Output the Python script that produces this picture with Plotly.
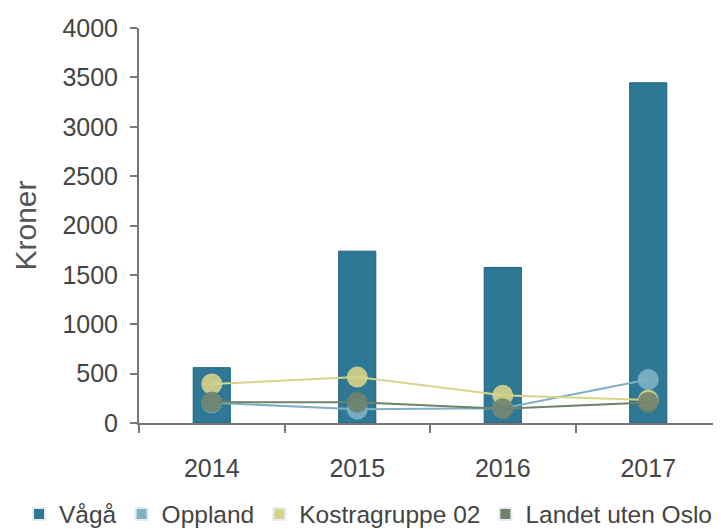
import plotly.graph_objects as go

years = ["2014", "2015", "2016", "2017"]
vaga = [560, 1740, 1575, 3445]
oppland = [205, 140, 150, 440]
kostra = [395, 465, 280, 232]
landet = [212, 210, 145, 208]

series_names = ["Vågå", "Oppland", "Kostragruppe 02", "Landet uten Oslo"]
colors = ["#2E7896", "#7FB0C4", "#D6D38A", "#6F826C"]

FONT = "Liberation Sans, Arial, sans-serif"

# page body has an 8px margin, so the figure is 713x521 placed at (8, 8)
W, H = 713, 521
L, T, B = 131, 20, 106
PW = W - L
PH = H - T - B

fig = go.Figure()

fig.add_trace(go.Bar(
    x=years, y=vaga, name=series_names[0], showlegend=False,
    marker=dict(color=colors[0], line=dict(color="#1F5F7A", width=1)),
    width=0.255,
))

for name, vals, col in [(series_names[1], oppland, colors[1]),
                        (series_names[2], kostra, colors[2]),
                        (series_names[3], landet, colors[3])]:
    fig.add_trace(go.Scatter(
        x=years, y=vals, name=name, mode="lines+markers", showlegend=False,
        line=dict(color=col, width=2),
        marker=dict(color=col, size=21, opacity=0.9),
    ))

# legend entries as squares
for name, col in zip(series_names, colors):
    fig.add_trace(go.Bar(x=[None], y=[None], name=name, marker_color=col, showlegend=True))

fig.update_layout(
    width=W, height=H,
    margin=dict(l=L, r=0, t=T, b=B, autoexpand=False),
    plot_bgcolor="white", paper_bgcolor="white",
    barmode="overlay",
    font=dict(family=FONT, size=25, color="#444444"),
    showlegend=True,
    legend=dict(orientation="h",
                x=(11 - L) / PW, xanchor="left", y=(PH - (506 - T)) / PH, yanchor="middle",
                font=dict(size=24.5, color="#444444"), itemsizing="constant",
                traceorder="normal", tracegroupgap=0, itemwidth=30,
                bgcolor="rgba(0,0,0,0)"),
    xaxis=dict(
        type="category", range=[-0.5, 3.5], showgrid=False, automargin=False,
        showline=True, linecolor="#777777", linewidth=2,
        ticks="outside", tickson="boundaries", ticklen=8, tickcolor="#777777", tickwidth=2,
        ticklabelstandoff=22, tickfont=dict(size=25, color="#444444"),
    ),
    yaxis=dict(
        range=[0, 4000], tickvals=[0, 500, 1000, 1500, 2000, 2500, 3000, 3500, 4000],
        showgrid=False, zeroline=False, automargin=False,
        showline=True, linecolor="#777777", linewidth=2,
        ticks="outside", ticklen=7, tickcolor="#777777", tickwidth=2,
        ticklabelstandoff=7, tickfont=dict(size=25, color="#444444"),
    ),
    annotations=[dict(
        text="Kroner", textangle=-90, xref="paper", yref="paper",
        x=(17 - L) / PW, y=0.5, xanchor="center", yanchor="middle",
        showarrow=False, font=dict(size=30, color="#555555"),
    )],
)

fig.write_html("out.html")
